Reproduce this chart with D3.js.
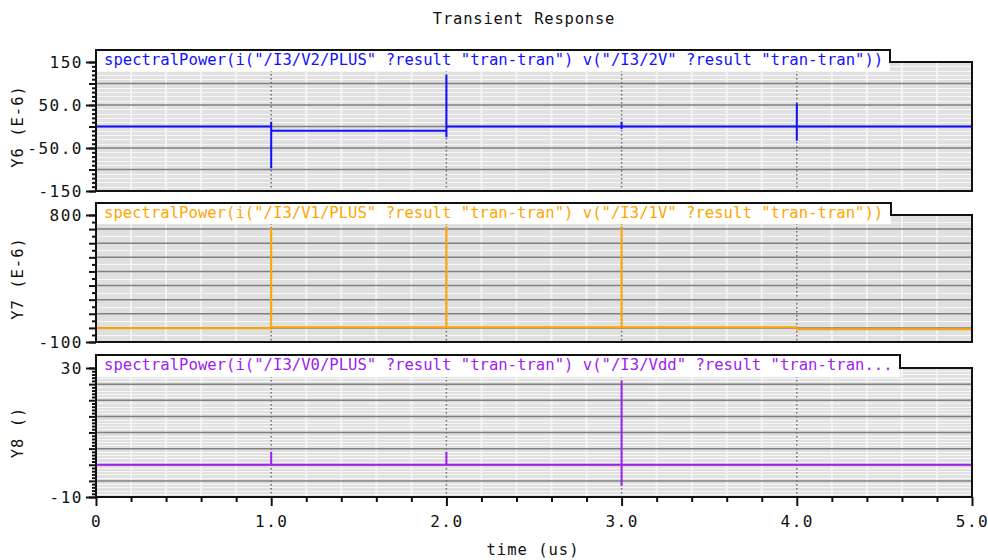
<!DOCTYPE html>
<html lang="en">
<head>
<meta charset="utf-8">
<title>Transient Response</title>
<script src="https://cdn.jsdelivr.net/npm/d3@7"></script>
<style>
  body { margin: 0; background: #fff; }
  svg text { font-family: "DejaVu Sans Mono", monospace; fill: #111; }
  .tick line { stroke: #111; stroke-width: 2px; }
  .tick text { font-size: 16px; letter-spacing: 1.5px; }
</style>
</head>
<body>
<svg id="chart" width="988" height="560"></svg>
<script>
// time axis (us)
var timeDomain = [0, 5];
var timeTicks = [0, 1, 2, 3, 4, 5];
var timeLabels = ["0", "1.0", "2.0", "3.0", "4.0", "5.0"];

// Y6 (E-6)
var y6Time  = [0, 1, 1, 1, 1, 2, 2, 2, 2, 3, 3, 3, 3, 4, 4, 4, 4, 5];
var y6Value = [0, 0, 11, -97, -10, -10, 120, -25, 0, 0, 11, -6, 0, 0, 54, -33, 0, 0];
var y6Ticks = [150, 50, -50, -150];
var y6Labels = ["150", "50.0", "-50.0", "-150"];

// Y7 (E-6)
var y7Time  = [0, 1, 1, 1, 1, 2, 2, 2, 3, 3, 3, 4, 4, 5];
var y7Value = [-3, -3, 710, -14, 5, 5, 720, 5, 5, 720, 5, 5, -10, -10];
var y7Ticks = [800, -100];
var y7Labels = ["800", "-100"];

// Y8 ()
var y8Time  = [0, 1, 1, 1, 2, 2, 2, 3, 3, 3, 3, 4, 5];
var y8Value = [0, 0, 4, 0, 0, 4, 0, 0, 26, -6.5, 0, 0, 0];
var y8Ticks = [30, -10];
var y8Labels = ["30", "-10"];

var seriesNames = [
  'spectralPower(i("/I3/V2/PLUS" ?result "tran-tran") v("/I3/2V" ?result "tran-tran"))',
  'spectralPower(i("/I3/V1/PLUS" ?result "tran-tran") v("/I3/1V" ?result "tran-tran"))',
  'spectralPower(i("/I3/V0/PLUS" ?result "tran-tran") v("/I3/Vdd" ?result "tran-tran...'
];
var axisTitles = ["Y6 (E-6)", "Y7 (E-6)", "Y8 ()"];

var panels = [
  { time: y6Time, value: y6Value, domain: [-150, 150], ticks: y6Ticks, labels: y6Labels,
    grid: 50, minor: 10, color: "#1010ff", top: 62, bottom: 191, tabTop: 50, tabRight: 890 },
  { time: y7Time, value: y7Value, domain: [-100, 800], ticks: y7Ticks, labels: y7Labels,
    grid: 100, minor: 50, color: "#ffa500", top: 215, bottom: 342, tabTop: 203, tabRight: 891 },
  { time: y8Time, value: y8Value, domain: [-10, 30], ticks: y8Ticks, labels: y8Labels,
    grid: 5, minor: 1, color: "#a020f0", top: 368, bottom: 497, tabTop: 355, tabRight: 900 }
];

var left = 96, right = 972;
var svg = d3.select("#chart");

var x = d3.scaleLinear().domain(timeDomain).range([left, right]);

svg.append("text")
    .attr("x", 524).attr("y", 24)
    .attr("text-anchor", "middle")
    .style("font-size", "15.5px")
    .style("letter-spacing", "0.8px")
    .text("Transient Response");

function stepValues(domain, step) {
  var out = [];
  var n = Math.round((domain[1] - domain[0]) / step);
  for (var i = 0; i <= n; i++) out.push(+(domain[0] + i * step).toFixed(6));
  return out;
}

var minorTimes = stepValues(timeDomain, 0.2).filter(function(t) { return Math.abs(t - Math.round(t)) > 1e-6; });

panels.forEach(function(p, idx) {
  var y = d3.scaleLinear().domain(p.domain).range([p.bottom, p.top]);
  var g = svg.append("g");

  var clipId = "clip" + idx;
  svg.append("clipPath").attr("id", clipId)
    .append("rect")
    .attr("x", left).attr("y", p.top)
    .attr("width", right - left).attr("height", p.bottom - p.top);

  var plot = g.append("g").attr("clip-path", "url(#" + clipId + ")");

  plot.append("rect")
      .attr("x", left).attr("y", p.top)
      .attr("width", right - left).attr("height", p.bottom - p.top)
      .attr("fill", "#e0e0e0");

  var gridVals = stepValues(p.domain, p.grid);
  var minorVals = stepValues(p.domain, p.minor).filter(function(v) {
    return gridVals.indexOf(v) < 0;
  });

  plot.selectAll(".minorH").data(minorVals).enter().append("line")
      .attr("x1", left).attr("x2", right)
      .attr("y1", function(d) { return Math.round(y(d)) + 0.5; })
      .attr("y2", function(d) { return Math.round(y(d)) + 0.5; })
      .attr("stroke", "#f7f7f7").attr("stroke-width", 1);

  plot.selectAll(".minorV").data(minorTimes).enter().append("line")
      .attr("x1", function(d) { return x(d); })
      .attr("x2", function(d) { return x(d); })
      .attr("y1", p.top).attr("y2", p.bottom)
      .attr("stroke", "#f3f3f3").attr("stroke-width", 2);

  plot.selectAll(".gridH").data(gridVals).enter().append("line")
      .attr("x1", left).attr("x2", right)
      .attr("y1", function(d) { return y(d); })
      .attr("y2", function(d) { return y(d); })
      .attr("stroke", "#808080").attr("stroke-width", 1.5);

  plot.selectAll(".gridV").data(timeTicks.slice(1, -1)).enter().append("line")
      .attr("x1", function(d) { return x(d); })
      .attr("x2", function(d) { return x(d); })
      .attr("y1", p.top).attr("y2", p.bottom)
      .attr("stroke", "#707070").attr("stroke-width", 1.5)
      .attr("stroke-dasharray", "1.5,2.5");

  var pts = p.time.map(function(t, i) { return [t, p.value[i]]; });
  var line = d3.line()
      .x(function(d) { return x(d[0]); })
      .y(function(d) { return y(d[1]); });

  plot.append("path")
      .datum(pts)
      .attr("d", line)
      .attr("fill", "none")
      .attr("stroke", p.color)
      .attr("stroke-width", 2);

  // legend tab
  g.append("rect")
      .attr("x", left).attr("y", p.tabTop)
      .attr("width", p.tabRight - left).attr("height", p.top + 9 - p.tabTop)
      .attr("fill", "#fff");

  g.append("text")
      .attr("x", 104).attr("y", p.tabTop + 15)
      .style("font-size", "15.6px")
      .style("fill", p.color)
      .text(seriesNames[idx]);

  var frame = d3.path();
  frame.moveTo(left, p.tabTop);
  frame.lineTo(p.tabRight, p.tabTop);
  frame.lineTo(p.tabRight, p.top);
  frame.lineTo(right, p.top);
  frame.lineTo(right, p.bottom);
  frame.lineTo(left, p.bottom);
  frame.closePath();
  g.append("path")
      .attr("d", frame.toString())
      .attr("fill", "none")
      .attr("stroke", "#111")
      .attr("stroke-width", 2);

  // y axis ticks
  g.append("g")
      .attr("transform", "translate(" + left + ",0)")
      .call(d3.axisLeft(y).tickValues(minorVals).tickSize(4).tickFormat(""))
      .call(function(a) { a.select(".domain").remove(); });
  g.append("g")
      .attr("transform", "translate(" + left + ",0)")
      .call(d3.axisLeft(y).tickValues(gridVals).tickSize(7).tickFormat(""))
      .call(function(a) { a.select(".domain").remove(); });
  g.append("g")
      .attr("transform", "translate(" + left + ",0)")
      .call(d3.axisLeft(y).tickValues(p.ticks).tickSize(10)
        .tickFormat(function(d, i) { return p.labels[i]; }))
      .call(function(a) {
        a.select(".domain").remove();
        a.selectAll("text").attr("fill", "#111").style("font-family", "DejaVu Sans Mono, monospace");
      });

  g.append("text")
      .attr("transform", "translate(23," + ((p.top + p.bottom) / 2) + ") rotate(-90)")
      .attr("text-anchor", "middle")
      .style("font-size", "15.5px")
      .style("letter-spacing", "1px")
      .text(axisTitles[idx]);
});

// bottom time axis
var last = panels[panels.length - 1];
svg.append("g")
    .attr("transform", "translate(0," + last.bottom + ")")
    .call(d3.axisBottom(x).tickValues(minorTimes).tickSize(5).tickFormat(""))
    .call(function(a) { a.select(".domain").remove(); });
svg.append("g")
    .attr("transform", "translate(0," + last.bottom + ")")
    .call(d3.axisBottom(x).tickValues(timeTicks).tickSize(9).tickPadding(10)
      .tickFormat(function(d, i) { return timeLabels[i]; }))
    .call(function(a) {
      a.select(".domain").remove();
      a.selectAll("text").attr("fill", "#111").style("font-family", "DejaVu Sans Mono, monospace");
    });

svg.append("text")
    .attr("x", 533).attr("y", 555)
    .attr("text-anchor", "middle")
    .style("font-size", "15.5px")
    .style("letter-spacing", "1px")
    .text("time (us)");
</script>
</body>
</html>
